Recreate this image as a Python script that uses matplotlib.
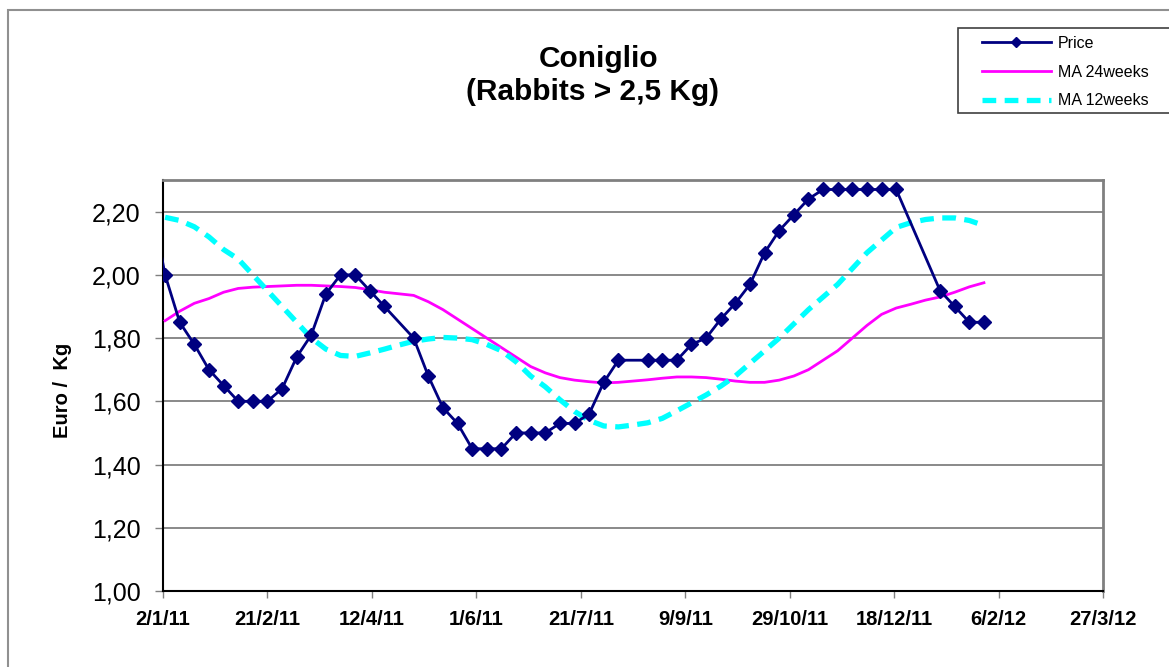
import pandas as pd
import matplotlib
matplotlib.use('Agg')
from matplotlib import pyplot as plt
from matplotlib.patches import Rectangle
from matplotlib.ticker import FuncFormatter

plt.rcParams['font.family'] = ['Liberation Sans', 'DejaVu Sans']

# weekly quotes, counted in weeks from 3/1/11 (some weeks have no quote)
start = pd.Timestamp('2011-01-03')
price_week = [-1, 0, 1, 2, 3, 4, 5, 6, 7, 8, 9, 10, 11, 12, 13, 14, 15,
              17, 18, 19, 20, 21, 22, 23, 24, 25, 26, 27, 28, 29, 30, 31,
              33, 34, 35, 36, 37, 38, 39, 40, 41, 42, 43, 44, 45, 46, 47, 48, 49, 50,
              53, 54, 55, 56]
price = [2.24, 2.00, 1.85, 1.78, 1.70, 1.65, 1.60, 1.60, 1.60, 1.64, 1.74, 1.81, 1.94, 2.00, 2.00, 1.95, 1.90,
         1.80, 1.68, 1.58, 1.53, 1.45, 1.45, 1.45, 1.50, 1.50, 1.50, 1.53, 1.53, 1.56, 1.66, 1.73,
         1.73, 1.73, 1.73, 1.78, 1.80, 1.86, 1.91, 1.97, 2.07, 2.14, 2.19, 2.24, 2.27, 2.27, 2.27, 2.27, 2.27, 2.27,
         1.95, 1.90, 1.85, 1.85]

ma_week = list(range(0, 57))
ma24 = [1.855, 1.885, 1.91, 1.925, 1.945, 1.957, 1.961, 1.963, 1.965, 1.967,
        1.967, 1.965, 1.963, 1.96, 1.953, 1.945, 1.94, 1.935, 1.915, 1.89,
        1.86, 1.83, 1.80, 1.77, 1.74, 1.71, 1.69, 1.675, 1.667, 1.662,
        1.658, 1.66, 1.664, 1.668, 1.673, 1.677, 1.677, 1.675, 1.67, 1.664,
        1.66, 1.66, 1.667, 1.68, 1.70, 1.73, 1.76, 1.80, 1.84, 1.875,
        1.895, 1.907, 1.92, 1.93, 1.945, 1.962, 1.975]
ma12 = [2.182, 2.172, 2.152, 2.12, 2.08, 2.05, 2.00, 1.95, 1.90, 1.85,
        1.80, 1.765, 1.745, 1.742, 1.753, 1.765, 1.778, 1.79, 1.797, 1.802,
        1.80, 1.795, 1.78, 1.76, 1.725, 1.68, 1.646, 1.605, 1.568, 1.54,
        1.522, 1.519, 1.525, 1.532, 1.546, 1.57, 1.595, 1.62, 1.648, 1.68,
        1.72, 1.76, 1.80, 1.845, 1.89, 1.93, 1.97, 2.02, 2.07, 2.11,
        2.15, 2.165, 2.175, 2.18, 2.18, 2.172, 2.156]

tick_dates = ['2011-01-02', '2011-02-21', '2011-04-12', '2011-06-01', '2011-07-21',
              '2011-09-09', '2011-10-29', '2011-12-18', '2012-02-06', '2012-03-27']
tick_labels = ['2/1/11', '21/2/11', '12/4/11', '1/6/11', '21/7/11',
               '9/9/11', '29/10/11', '18/12/11', '6/2/12', '27/3/12']

price_dates = [start + pd.Timedelta(weeks=w) for w in price_week]
ma_dates = [start + pd.Timedelta(weeks=w) for w in ma_week]

W, H = 1169, 667
fig = plt.figure(figsize=(W / 100, H / 100), dpi=100)

# outer chart border (runs off the right and bottom edge)
fig.patches.append(Rectangle((8 / W, -0.05), 1.1, 1 - 10 / H + 0.05,
                             transform=fig.transFigure, fill=False,
                             edgecolor='#909090', linewidth=1.5))

ax = fig.add_axes([163 / W, 1 - 591 / H, 940 / W, 411 / H])

ax.plot(ma_dates, ma24, color='#FF00FF', linewidth=2, label='MA 24weeks', zorder=3)
ax.plot(ma_dates, ma12, color='#00FFFF', linewidth=3.8, linestyle=(0, (2.6, 1.6)),
        label='MA 12weeks', zorder=3)
ax.plot(price_dates, price, color='#000080', linewidth=2, marker='D', markersize=7,
        label='Price', zorder=4)

ax.set_xlim(pd.Timestamp(tick_dates[0]), pd.Timestamp(tick_dates[-1]))
ax.set_ylim(1.0, 2.3)
ax.set_yticks([1.0, 1.2, 1.4, 1.6, 1.8, 2.0, 2.2])
ax.yaxis.set_major_formatter(FuncFormatter(lambda v, p: f'{v:.2f}'.replace('.', ',')))
ax.set_xticks([pd.Timestamp(d) for d in tick_dates])
ax.set_xticklabels(tick_labels, fontweight='bold', fontsize=14.5)
ax.tick_params(axis='y', labelsize=18, length=6, color='#808080', width=1, pad=10)
ax.tick_params(axis='x', length=5, color='#808080', width=1, pad=9)
ax.grid(axis='y', color='#808080', linewidth=1.3)
ax.set_axisbelow(True)

for s in ['left', 'bottom']:
    ax.spines[s].set_color('black')
    ax.spines[s].set_linewidth(1.5)
for s in ['top', 'right']:
    ax.spines[s].set_color('#808080')
    ax.spines[s].set_linewidth(2)

fig.text(62 / W, 1 - 390 / H, 'Euro /  Kg', rotation=90, ha='center', va='center',
         fontsize=14.5, fontweight='bold')

fig.text(599 / W, 1 - 67 / H, 'Coniglio', ha='center', va='baseline',
         fontsize=21.5, fontweight='bold')
fig.text(592.5 / W, 1 - 100 / H, '(Rabbits > 2,5 Kg)', ha='center', va='baseline',
         fontsize=21.5, fontweight='bold')

# legend box
fig.patches.append(Rectangle((958 / W, 1 - 113 / H), 0.2, 85 / H,
                             transform=fig.transFigure, fill=True, facecolor='white',
                             edgecolor='#404040', linewidth=1.2, zorder=5))
h, l = ax.get_legend_handles_labels()
order = [2, 0, 1]
leg = fig.legend([h[i] for i in order], [l[i] for i in order],
                 loc='upper left', bbox_to_anchor=(982 / W, 1 - 36 / H),
                 fontsize=11.5, frameon=False,
                 handlelength=4.3, borderpad=0, labelspacing=0.85, handletextpad=0.45,
                 markerscale=0.8, borderaxespad=0)
leg.set_zorder(6)

plt.savefig('out.png', dpi=100)
